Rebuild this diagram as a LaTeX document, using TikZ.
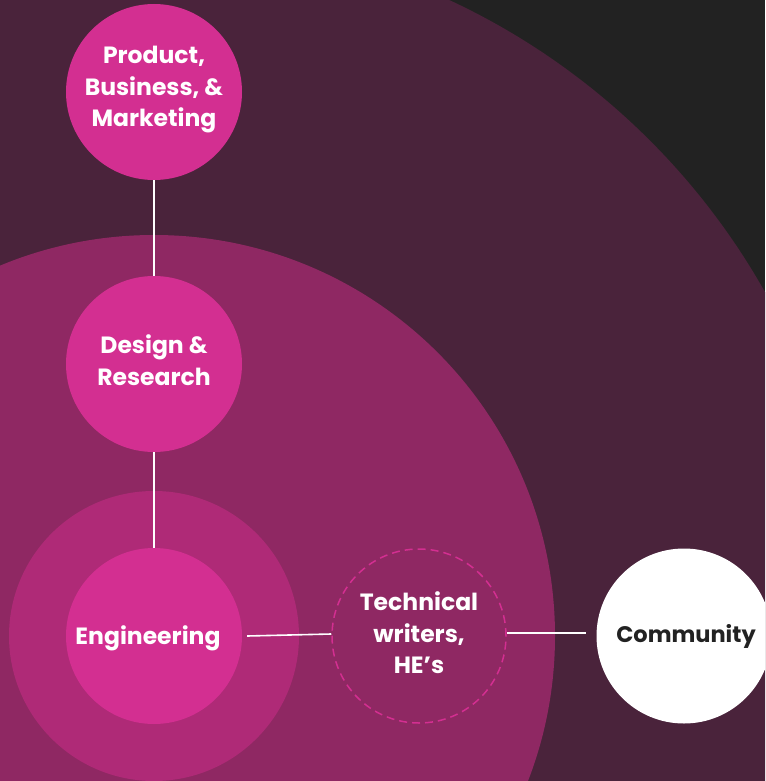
\documentclass[tikz,border=0pt]{standalone}
\usepackage{fontspec}
\setmainfont{Poppins}
\definecolor{bgdark}{HTML}{222222}
\definecolor{outerc}{HTML}{4A233B}
\definecolor{midc}{HTML}{8F2863}
\definecolor{ringc}{HTML}{AF2A77}
\definecolor{nodec}{HTML}{D32F91}
\definecolor{textdark}{HTML}{222222}
\tikzset{
  lbl/.style={font=\fontsize{23.5}{31.5}\selectfont\bfseries, align=center, inner sep=0pt},
  pinknode/.style={circle, fill=nodec, minimum size=176pt, inner sep=0pt, text=white, lbl},
  dashnode/.style={circle, draw=nodec, dash pattern=on 8pt off 5pt, line width=1.5pt, minimum size=174pt, inner sep=0pt, text=white, lbl},
  whitenode/.style={circle, fill=white, minimum size=175pt, inner sep=0pt, text=textdark, lbl},
  link/.style={draw=white, line width=1.6pt}
}
\begin{document}
\begin{tikzpicture}[x=1pt,y=-1pt]
\useasboundingbox (0,0) rectangle (765,781);
\clip (0,0) rectangle (765,781);
\fill[bgdark] (0,0) rectangle (765,781);
\fill[outerc] (154,636) circle[radius=701];
\fill[midc] (154,636) circle[radius=401];
\fill[ringc] (154,636) circle[radius=145];
\node[pinknode] (prod) at (154,92) {};
\node[lbl, text=white] (prodl) at (154,90) {Product,\\Business, \&\\Marketing};
\node[pinknode] (des) at (154,364) {};
\node[lbl, text=white] (desl) at (154,360) {Design \&\\Research};
\node[pinknode] (eng) at (154,636) {};
\node[lbl, text=white] (engl) at (148,638) {Engineering};
\node[dashnode] (tech) at (419,636) {};
\node[lbl, text=white] (techl) at (419,633) {Technical\\writers,\\HE’s};
\node[whitenode] (comm) at (684,636) {};
\node[lbl, text=textdark, font=\fontsize{22.5}{31.5}\selectfont\bfseries] (comml) at (686,636) {Community};
\draw[link] (prod.south) -- (des.north);
\draw[link] (des.south) -- (eng.north);
\draw[link] ([xshift=5pt]eng.east) -- ([yshift=2pt]tech.west);
\draw[link] ([yshift=3pt]tech.east) -- ([xshift=-10pt,yshift=3pt]comm.west);
\end{tikzpicture}
\end{document}
